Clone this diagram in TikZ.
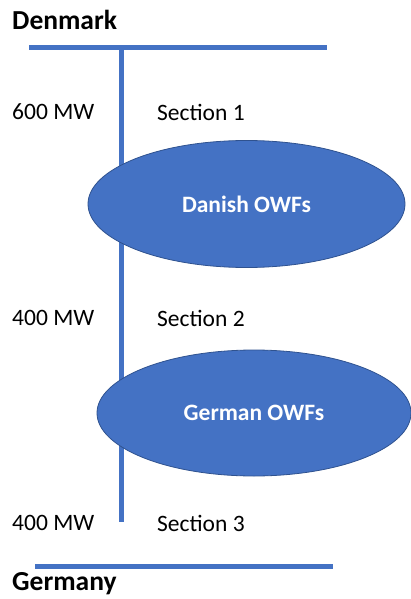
\documentclass[tikz,border=0pt]{standalone}
\usepackage{fontspec}
\setmainfont{Carlito}
\usetikzlibrary{shapes.geometric}
\definecolor{busblue}{HTML}{4472C4}
\definecolor{rimblue}{HTML}{2F528F}

\begin{document}
\begin{tikzpicture}[x=1pt,y=-1pt,
bus/.style={draw=busblue,line width=5pt},
owf/.style={ellipse,draw=rimblue,line width=0.8pt,fill=busblue,text=white,
            font=\fontsize{23.5}{28}\selectfont\bfseries,inner sep=0pt},
country/.style={anchor=west,inner sep=0pt,font=\fontsize{27.5}{32}\selectfont\bfseries},
label/.style={anchor=west,inner sep=0pt,font=\fontsize{23.5}{28}\selectfont}]
 \useasboundingbox (0,0) rectangle (411,599);

 % busbars
 \coordinate (dkleft) at (29,48);
 \coordinate (dkright) at (327,48);
 \coordinate (deleft) at (35,566);
 \coordinate (deright) at (333,566);
 \coordinate (tap) at (121,48);
 \coordinate (cableend) at (121,522);
 \draw[bus] (dkleft) -- (dkright);
 \draw[bus] (deleft) -- (deright);
 \draw[bus] (tap) -- (cableend);

 \node[country] (Denmark) at (12,20) {Denmark};
 \node[country] (Germany) at (12,584) {Germany};

 % wind farms
 \node[owf,minimum width=317pt,minimum height=127pt] (Danish) at (246.5,204) {Danish OWFs};
 \node[owf,minimum width=314pt,minimum height=126pt] (German) at (254,413) {German OWFs};

 % sections
 \node[label] (mw1) at (12,112) {600 MW};
 \node[label] (sec1) at (157,112) {Section 1};
 \node[label] (mw2) at (12,318) {400 MW};
 \node[label] (sec2) at (157,318) {Section 2};
 \node[label] (mw3) at (12,523) {400 MW};
 \node[label] (sec3) at (157,523) {Section 3};
\end{tikzpicture}
\end{document}
